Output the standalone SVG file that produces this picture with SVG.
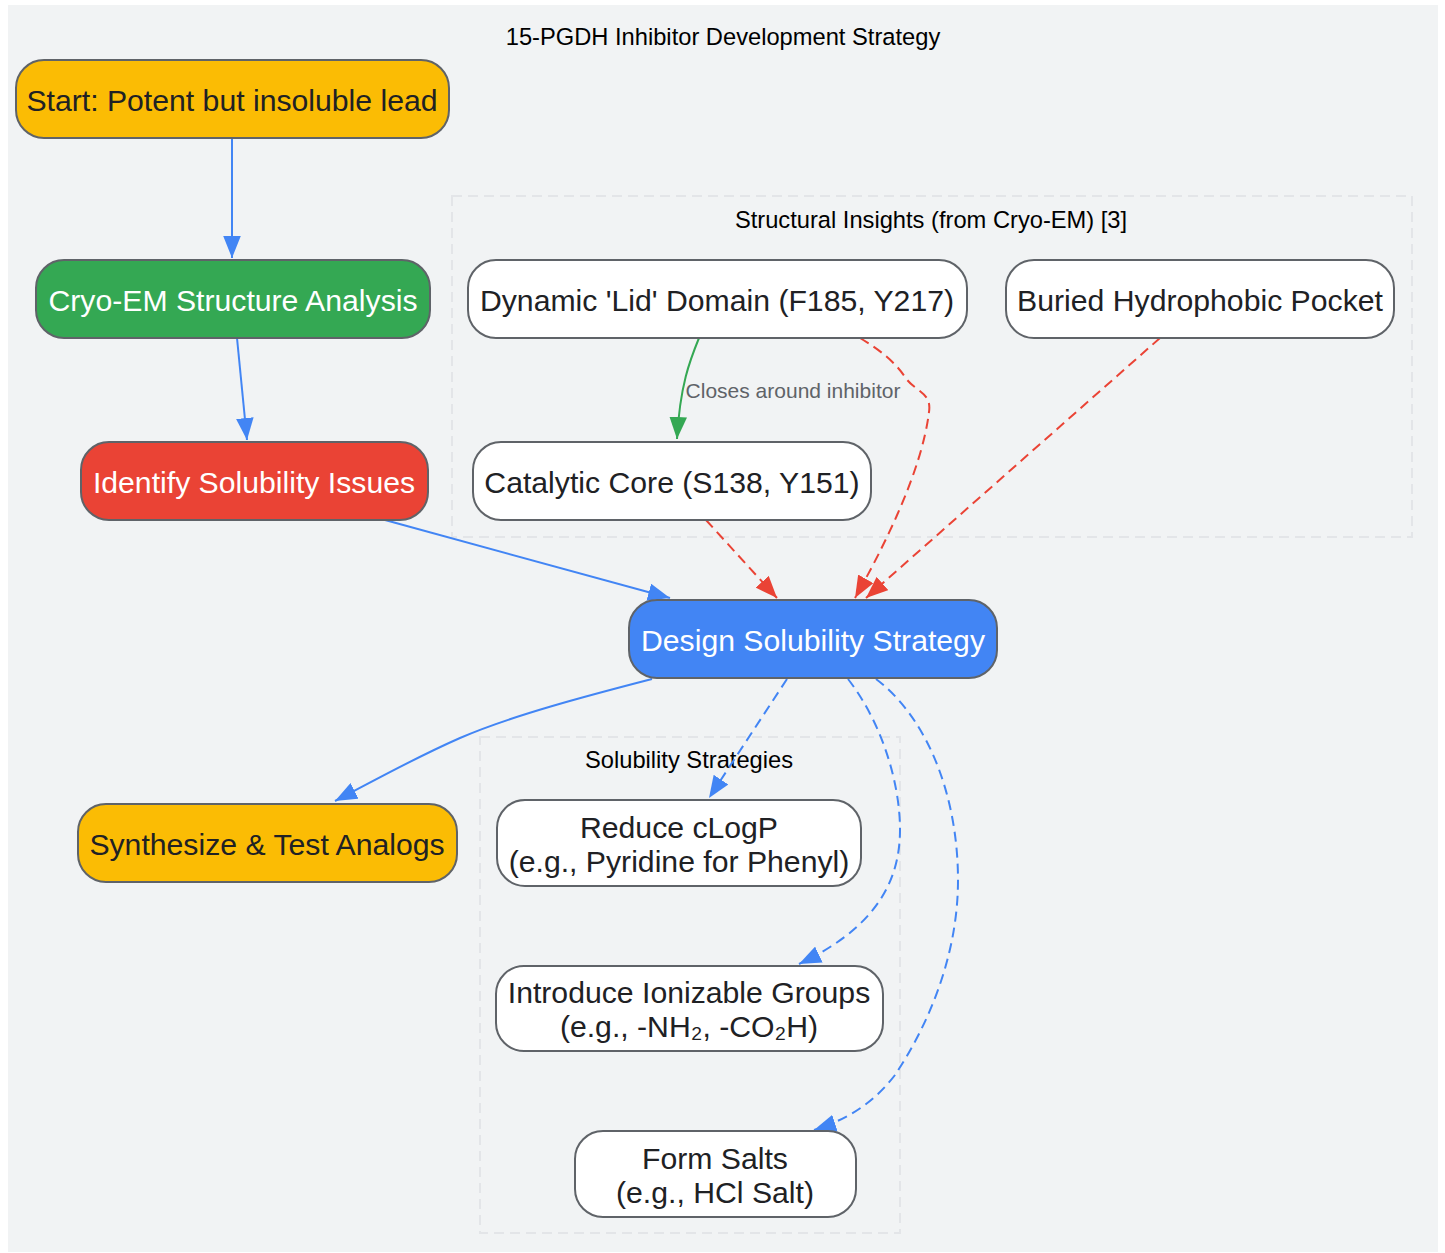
<svg xmlns="http://www.w3.org/2000/svg" width="1445" height="1253" viewBox="0 0 1445 1253">
<style>
text{font-family:"Liberation Sans",Arial,sans-serif;text-anchor:middle}
.n{stroke:#5f6368;stroke-width:2}
.t{font-size:30.2px;fill:#202124}
.w{font-size:30.2px;fill:#ffffff}
.cl{fill:none;stroke:#e3e5e8;stroke-width:2;stroke-dasharray:10,6}
.cla{font-size:23.7px;fill:#000000}
.e{fill:none;stroke-width:2}
.b{stroke:#4285f4}
.r{stroke:#ea4335;stroke-dasharray:10,6}
.g{stroke:#34a853}
.d{stroke-dasharray:10,6}
</style>
<defs>
<marker id="ab" viewBox="0 0 10 8" refX="10" refY="4" markerWidth="11" markerHeight="8.8" orient="auto"><path d="M0,0L10,4L0,8z" fill="#4285f4"/></marker>
<marker id="ar" viewBox="0 0 10 8" refX="10" refY="4" markerWidth="11" markerHeight="8.8" orient="auto"><path d="M0,0L10,4L0,8z" fill="#ea4335"/></marker>
<marker id="ag" viewBox="0 0 10 8" refX="10" refY="4" markerWidth="11" markerHeight="8.8" orient="auto"><path d="M0,0L10,4L0,8z" fill="#34a853"/></marker>
</defs>
<rect x="0" y="0" width="1445" height="1253" fill="#ffffff"/>
<rect x="8" y="5" width="1430" height="1247" fill="#f1f3f4"/>
<text x="723" y="45" class="cla">15-PGDH Inhibitor Development Strategy</text>

<g id="cluster-structural">
<rect x="452" y="196" width="960" height="341" class="cl"/>
<text x="931" y="228" class="cla">Structural Insights (from Cryo-EM) [3]</text>
</g>
<g id="cluster-solubility">
<rect x="480" y="737" width="420" height="496" class="cl"/>
<text x="689" y="768" class="cla">Solubility Strategies</text>
</g>

<g id="connectors">
<path class="e b" d="M232,138L232,258" marker-end="url(#ab)"/>
<path class="e b" d="M237,338L247,440" marker-end="url(#ab)"/>
<path class="e b" d="M385,520L670,598" marker-end="url(#ab)"/>
<path class="e b" d="M652,679C590,695 510,716 460,738C410,760 370,783 335,801" marker-end="url(#ab)"/>
<path class="e g" d="M699,338C690,360 680,385 677,439" marker-end="url(#ag)"/>
<text x="793" y="398" style="font-size:21px;fill:#5f6368">Closes around inhibitor</text>
<path class="e r" d="M860,338C880,350 895,362 905,377C915,392 932,392 929,412C922,470 885,545 855,598" marker-end="url(#ar)"/>
<path class="e r" d="M1160,338L866,598" marker-end="url(#ar)"/>
<path class="e r" d="M706,520L777,598" marker-end="url(#ar)"/>
<path class="e b d" d="M787,679L709,798" marker-end="url(#ab)"/>
<path class="e b d" d="M848,679C880,720 900,780 900,830C900,895 860,935 799,964" marker-end="url(#ab)"/>
<path class="e b d" d="M876,679C930,720 958,800 958,880C958,960 925,1030 895,1075C872,1105 845,1120 814,1130" marker-end="url(#ab)"/>
</g>

<g id="node-start"><rect x="16" y="60" width="433" height="78" rx="28" fill="#fbbc04" class="n"/><text x="232" y="111" class="t">Start: Potent but insoluble lead</text></g>
<g id="node-cryo"><rect x="36" y="260" width="394" height="78" rx="28" fill="#34a853" class="n"/><text x="233" y="311" class="w">Cryo-EM Structure Analysis</text></g>
<g id="node-identify"><rect x="81" y="442" width="347" height="78" rx="28" fill="#ea4335" class="n"/><text x="254" y="493" class="w">Identify Solubility Issues</text></g>
<g id="node-lid"><rect x="468" y="260" width="499" height="78" rx="28" fill="#ffffff" class="n"/><text x="717" y="311" class="t">Dynamic 'Lid' Domain (F185, Y217)</text></g>
<g id="node-pocket"><rect x="1006" y="260" width="388" height="78" rx="28" fill="#ffffff" class="n"/><text x="1200" y="311" class="t">Buried Hydrophobic Pocket</text></g>
<g id="node-core"><rect x="473" y="442" width="398" height="78" rx="28" fill="#ffffff" class="n"/><text x="672" y="493" class="t">Catalytic Core (S138, Y151)</text></g>
<g id="node-design"><rect x="629" y="600" width="368" height="78" rx="28" fill="#4285f4" class="n"/><text x="813" y="651" class="w">Design Solubility Strategy</text></g>
<g id="node-synth"><rect x="78" y="804" width="379" height="78" rx="28" fill="#fbbc04" class="n"/><text x="267" y="855" class="t">Synthesize &amp; Test Analogs</text></g>
<g id="node-clogp"><rect x="497" y="800" width="364" height="86" rx="28" fill="#ffffff" class="n"/><text x="679" y="838" class="t">Reduce cLogP</text><text x="679" y="872" class="t">(e.g., Pyridine for Phenyl)</text></g>
<g id="node-ionizable"><rect x="496" y="966" width="387" height="85" rx="28" fill="#ffffff" class="n"/><text x="689" y="1003" class="t">Introduce Ionizable Groups</text><text x="689" y="1037" class="t">(e.g., -NH₂, -CO₂H)</text></g>
<g id="node-salts"><rect x="575" y="1131" width="281" height="86" rx="28" fill="#ffffff" class="n"/><text x="715" y="1169" class="t">Form Salts</text><text x="715" y="1203" class="t">(e.g., HCl Salt)</text></g>
</svg>
